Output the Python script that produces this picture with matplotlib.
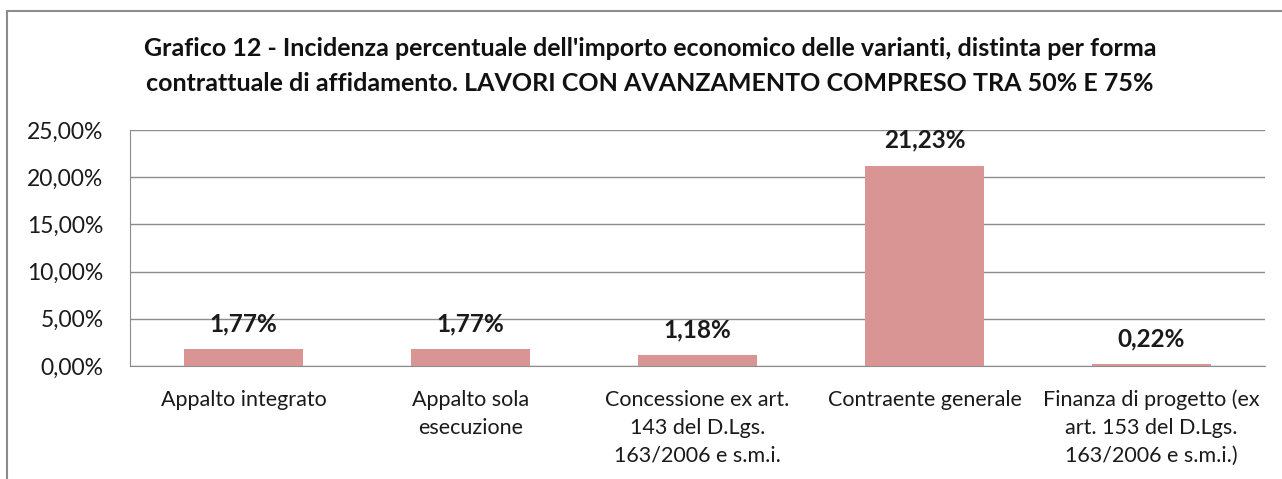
import numpy as np
import matplotlib.pyplot as plt
from matplotlib.lines import Line2D
from matplotlib.ticker import FuncFormatter

plt.rcParams["font.family"] = ["Lato", "DejaVu Sans"]

categories = [
    "Appalto integrato",
    "Appalto sola\nesecuzione",
    "Concessione ex art.\n143 del D.Lgs.\n163/2006 e s.m.i.",
    "Contraente generale",
    "Finanza di progetto (ex\nart. 153 del D.Lgs.\n163/2006 e s.m.i.)",
]
values = [1.77, 1.77, 1.18, 21.23, 0.22]
y_ticks = [0, 5, 10, 15, 20, 25]

title = ("Grafico 12 - Incidenza percentuale dell'importo economico delle varianti, distinta per forma\n"
         "contrattuale di affidamento. LAVORI CON AVANZAMENTO COMPRESO TRA 50% E 75%")

W, H = 1282, 479
fig = plt.figure(figsize=(W / 100, H / 100), dpi=100)
ax = fig.add_axes([130 / W, 1 - 366 / H, (1265 - 130) / W, (366 - 130) / H])

x = np.arange(len(categories))
ax.bar(x, values, width=0.525, color="#D99594", zorder=3)

ax.set_xlim(-0.5, len(categories) - 0.5)
ax.set_ylim(0, 25)
ax.set_yticks(y_ticks)
ax.yaxis.set_major_formatter(FuncFormatter(lambda v, _: f"{v:.2f}%".replace(".", ",")))
ax.grid(axis="y", color="#8C8C8C", linewidth=1.0, zorder=0)
ax.set_axisbelow(True)

for s in ["top", "right"]:
    ax.spines[s].set_visible(False)
ax.spines["left"].set_color("#8C8C8C")
ax.spines["bottom"].set_color("#8C8C8C")
ax.tick_params(axis="both", length=0, colors="#1A1A1A")
ax.tick_params(axis="y", pad=19, labelsize=16.5)
ax.set_xticks(x)
ax.set_xticklabels(categories, fontsize=15.5, linespacing=1.5, va="top")
ax.tick_params(axis="x", pad=17)

for xi, v in zip(x, values):
    ax.annotate(f"{v:.2f}%".replace(".", ","), (xi, v), xytext=(0, 10),
                textcoords="offset points", ha="center", va="bottom",
                fontsize=17.5, fontweight="bold", color="#1A1A1A")

fig.text(650 / W, 1 - 66 / H, title, ha="center", va="center", fontsize=18,
         fontweight="bold", linespacing=1.6, color="#111111")

# chart frame (left and top edges visible)
fig.add_artist(Line2D([7 / W, 7 / W], [0, 1 - 11 / H], transform=fig.transFigure,
                      color="#8C8C8C", linewidth=1.5))
fig.add_artist(Line2D([7 / W, 1], [1 - 11 / H, 1 - 11 / H], transform=fig.transFigure,
                      color="#8C8C8C", linewidth=1.5))

fig.savefig("out.png", dpi=100)
